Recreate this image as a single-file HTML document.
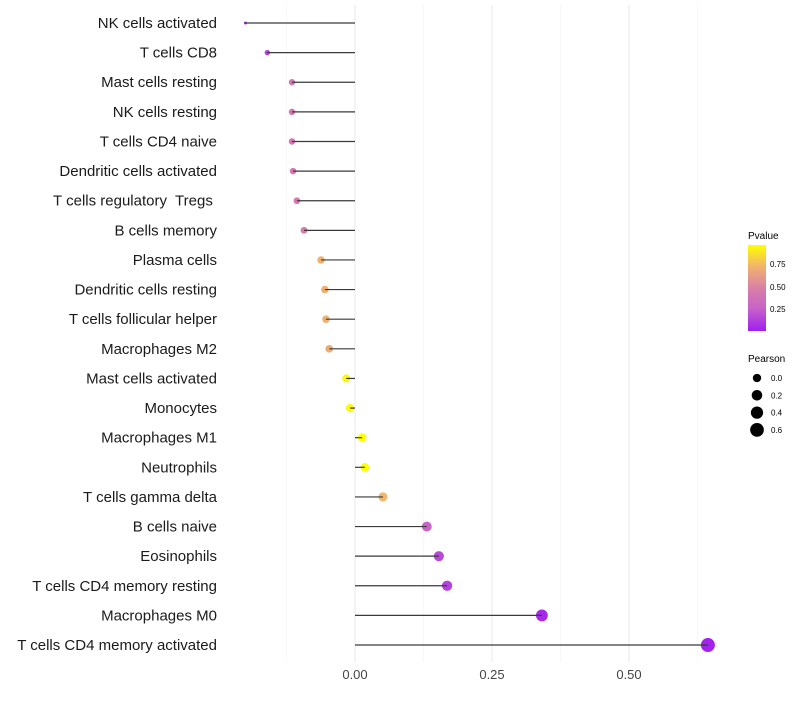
<!DOCTYPE html>
<html><head><meta charset="utf-8">
<style>
body{margin:0;background:#fff;font-family:"Liberation Sans",sans-serif;}
svg text{font-family:"Liberation Sans",sans-serif;white-space:pre;}
</style></head>
<body>
<svg id="chart" width="800" height="700" xmlns="http://www.w3.org/2000/svg">
<defs>
<linearGradient id="pg" x1="0" y1="1" x2="0" y2="0">
<stop offset="0" stop-color="#a020f0"/>
<stop offset="0.27" stop-color="#c864c8"/>
<stop offset="0.48" stop-color="#d87daa"/>
<stop offset="0.74" stop-color="#f0b070"/>
<stop offset="1" stop-color="#ffff00"/>
</linearGradient>
</defs>
<g id="grid"></g>
<g id="dots"></g>
<g id="stems"></g>
<g id="labels"></g>
<g id="xticks"></g>
<g>
<text x="748" y="239" font-size="10">Pvalue</text>
<rect x="748" y="245" width="18" height="86" fill="url(#pg)"/>
<text x="770" y="267" font-size="8">0.75</text>
<text x="770" y="290" font-size="8">0.50</text>
<text x="770" y="312" font-size="8">0.25</text>
</g>
<g id="sizeleg">
<text x="748" y="362" font-size="10">Pearson</text>
</g>
</svg>
<script>
const categories=["NK cells activated","T cells CD8","Mast cells resting","NK cells resting","T cells CD4 naive","Dendritic cells activated","T cells regulatory  Tregs ","B cells memory","Plasma cells","Dendritic cells resting","T cells follicular helper","Macrophages M2","Mast cells activated","Monocytes","Macrophages M1","Neutrophils","T cells gamma delta","B cells naive","Eosinophils","T cells CD4 memory resting","Macrophages M0","T cells CD4 memory activated"];
const pearson=[-0.200,-0.160,-0.115,-0.115,-0.115,-0.113,-0.106,-0.093,-0.062,-0.055,-0.053,-0.047,-0.016,-0.009,0.013,0.018,0.051,0.131,0.153,0.168,0.341,0.644];
const pvalue=[0.02,0.12,0.40,0.40,0.40,0.40,0.42,0.45,0.70,0.70,0.70,0.68,0.93,0.93,0.95,0.95,0.72,0.25,0.15,0.12,0.03,0.01];
const xTicks=[0,0.25,0.5];
const xMinor=[-0.125,0.125,0.375,0.625];
const sizeLegend=[0,0.2,0.4,0.6];
const NS="http://www.w3.org/2000/svg";
const X=v=>355+v*548;
const Y=i=>23+i*29.62;
const R=v=>1.5+5.5*Math.sqrt(Math.max(0,(v+0.2)/0.844));
function col(p){
  const stops=[[0,[160,32,240]],[0.25,[200,100,200]],[0.45,[216,125,170]],[0.7,[240,176,112]],[0.95,[255,255,0]]];
  if(p<=0)return"rgb(160,32,240)";
  for(let k=1;k<stops.length;k++){if(p<=stops[k][0]){const a=stops[k-1],b=stops[k],t=(p-a[0])/(b[0]-a[0]);return"rgb("+a[1].map((c,j)=>Math.round(c+(b[1][j]-c)*t)).join(",")+")";}}
  return"rgb(255,255,0)";
}
function mk(tag,attrs,parent){const e=document.createElementNS(NS,tag);for(const k in attrs)e.setAttribute(k,attrs[k]);parent.appendChild(e);return e;}
const grid=document.getElementById('grid'),dots=document.getElementById('dots'),stems=document.getElementById('stems'),labels=document.getElementById('labels'),xt=document.getElementById('xticks');
xMinor.forEach(v=>{const l=mk('line',{x1:X(v),x2:X(v),y1:5,y2:662,stroke:'#f3f3f3','stroke-width':0.6},grid);

});
xTicks.forEach(v=>{const l=mk('line',{x1:X(v),x2:X(v),y1:5,y2:662,stroke:'#ececec','stroke-width':1.1},grid);


const t=mk('text',{x:X(v),y:679,'font-size':13,'text-anchor':'middle',fill:'#444'},xt);t.textContent=v.toFixed(2);

});
categories.forEach((c,i)=>{
  const y=Y(i);
  const t=mk('text',{x:217,y:y+5,'font-size':15,'text-anchor':'end',fill:'#1a1a1a'},labels);t.textContent=c;
  
  
  const d=mk('circle',{cx:X(pearson[i]),cy:y,r:R(pearson[i]),fill:col(pvalue[i])},dots);
  
  
  const l=mk('line',{x1:X(0),x2:X(pearson[i]),y1:y,y2:y,stroke:'#3a3a3a','stroke-width':1.2},stems);
  
  
});
const sl=document.getElementById('sizeleg');
sizeLegend.forEach((v,i)=>{const y=378+i*17.3;
  const d=mk('circle',{cx:757,cy:y,r:R(v),fill:'#000'},sl);
  
  
  const t=mk('text',{x:771,y:y+3,'font-size':8},sl);t.textContent=v.toFixed(1);
  
  });
</script>
</body></html>
